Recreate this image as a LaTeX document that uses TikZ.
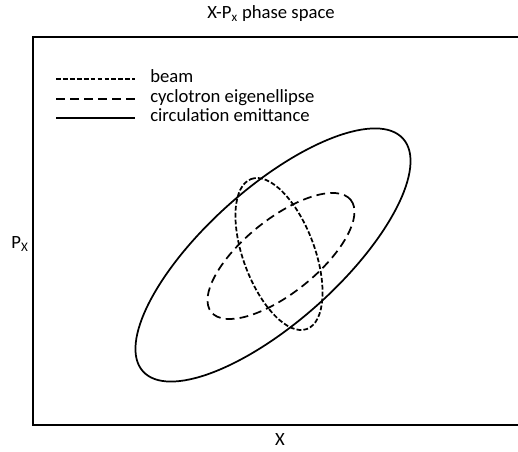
\documentclass[tikz,border=0pt]{standalone}
\usepackage{fontspec}
\setmainfont{Carlito}
\begin{document}
\begin{tikzpicture}[x=0.75pt,y=-0.75pt,font=\fontsize{14}{16}\selectfont,
        lbl/.style={inner sep=0pt},
        axis/.style={line width=1.1pt},
        emit/.style={line width=1.3pt},
        beamdash/.style={line width=1.3pt,dash pattern=on 3.6pt off 1.6pt},
        eigdash/.style={line width=1.3pt,dash pattern=on 6.6pt off 3.9pt}]
        \useasboundingbox (0,0) rectangle (518,452);

        \node[lbl] (title) at (271,14) {X-P\textsubscript{x} phase space};
        \node[lbl] (py) at (20,244) {P\textsubscript{X}};
        \node[lbl] (px) at (280,440) {X};

        \coordinate (tr) at (518,37);
        \coordinate (tl) at (33,37);
        \coordinate (bl) at (33,425);
        \coordinate (br) at (518,425);
        \draw[axis] (tr) -- (tl) -- (bl) -- (br);

        % legend
        \coordinate (l1) at (56,79);
        \coordinate (r1) at (135,79);
        \coordinate (l2) at (56,99);
        \coordinate (r2) at (135,99);
        \coordinate (l3) at (56,118);
        \coordinate (r3) at (135,118);
        \node[lbl,anchor=base west] (t1) at (150,82.5) {beam};
        \node[lbl,anchor=base west] (t2) at (150,102.5) {cyclotron eigenellipse};
        \node[lbl,anchor=base west] (t3) at (150,121.5) {circulation emittance};
        \draw[beamdash] (l1) -- (r1);
        \draw[eigdash] (l2) -- (r2);
        \draw[emit] (l3) -- (r3);

        % ellipses
        \coordinate (ce) at (273,255);
        \coordinate (cb) at (279,254);
        \coordinate (cc) at (281,256);
        \draw[emit,rotate around={41.8:(ce)}] (ce) ellipse [x radius=174.5,y radius=66.9];
        \draw[eigdash,rotate around={38.8:(cc)}] (cc) ellipse [x radius=89.5,y radius=36.9];
        \draw[beamdash,rotate around={110.4:(cb)}] (cb) ellipse [x radius=80,y radius=35.7];
    \end{tikzpicture}
\end{document}
